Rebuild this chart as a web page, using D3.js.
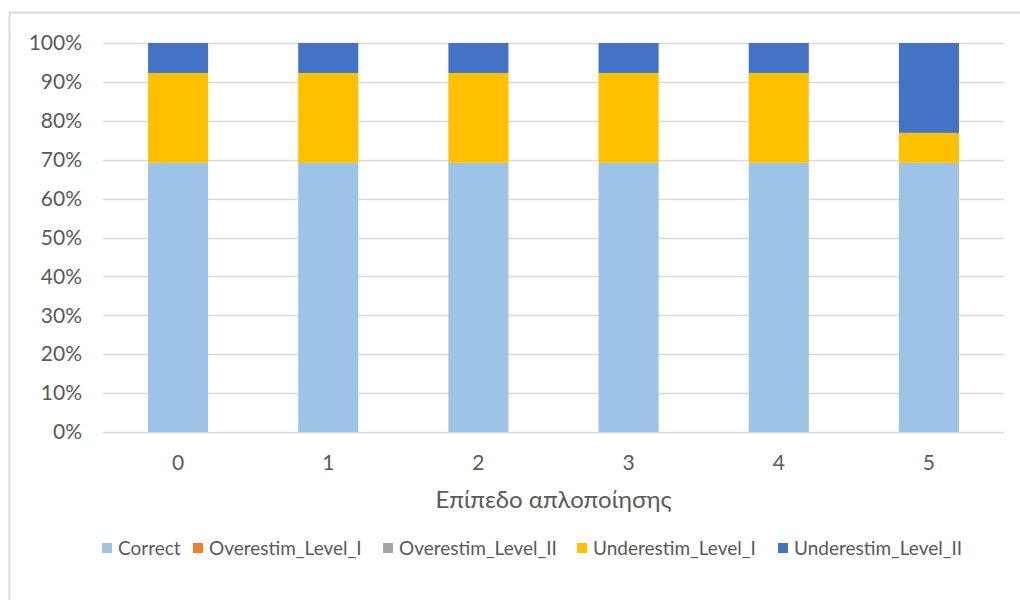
<!DOCTYPE html>
<html>
<head>
<meta charset="utf-8">
<script src="https://cdn.jsdelivr.net/npm/d3@7"></script>
<style>
  html, body { margin: 0; padding: 0; background: #ffffff; }
  svg { display: block; }
  text { font-family: Lato, "Open Sans", "Liberation Sans", sans-serif; fill: #595959; }
</style>
</head>
<body>
<svg id="chart" width="1020" height="600"></svg>
<script>
// Simplification levels on the x axis
const levels = ["0", "1", "2", "3", "4", "5"];

// Share of each outcome per level (percent)
const correct          = [69.2, 69.2, 69.2, 69.2, 69.2, 69.2];
const overestimLevelI  = [0, 0, 0, 0, 0, 0];
const overestimLevelII = [0, 0, 0, 0, 0, 0];
const underestimLevelI = [23.1, 23.1, 23.1, 23.1, 23.1, 7.7];
const underestimLevelII = [7.7, 7.7, 7.7, 7.7, 7.7, 23.1];

const seriesNames = ["Correct", "Overestim_Level_I", "Overestim_Level_II", "Underestim_Level_I", "Underestim_Level_II"];
const seriesValues = [correct, overestimLevelI, overestimLevelII, underestimLevelI, underestimLevelII];
const seriesColors = ["#9dc3e6", "#ed7d31", "#a5a5a5", "#ffc000", "#4472c4"];

const yTicks = [0, 10, 20, 30, 40, 50, 60, 70, 80, 90, 100];

const svg = d3.select("#chart");

// Chart frame
svg.append("rect")
  .attr("x", 9.5).attr("y", 12.5)
  .attr("width", 1030).attr("height", 620)
  .attr("fill", "#ffffff")
  .attr("stroke", "#d9d9d9")
  .attr("stroke-width", 2);

const plot = { left: 103, right: 1004, top: 43, bottom: 432 };

const x = d3.scaleBand()
  .domain(levels)
  .range([plot.left, plot.right])
  .paddingInner(0.6)
  .paddingOuter(0.3);

const y = d3.scaleLinear()
  .domain([0, 100])
  .range([plot.bottom, plot.top]);

// Gridlines
svg.append("g")
  .selectAll("line")
  .data(yTicks)
  .join("line")
  .attr("x1", plot.left).attr("x2", plot.right)
  .attr("y1", d => Math.round(y(d)) + 0.5)
  .attr("y2", d => Math.round(y(d)) + 0.5)
  .attr("stroke", "#d9d9d9")
  .attr("stroke-width", 1.3);

// Stack the series
const rows = levels.map((lvl, i) => {
  const r = { level: lvl };
  seriesNames.forEach((s, k) => { r[s] = seriesValues[k][i]; });
  return r;
});
const stacked = d3.stack().keys(seriesNames)(rows);

svg.append("g")
  .selectAll("g")
  .data(stacked)
  .join("g")
  .attr("fill", (d, i) => seriesColors[i])
  .selectAll("rect")
  .data(d => d)
  .join("rect")
  .attr("x", d => x(d.data.level))
  .attr("width", x.bandwidth())
  .attr("y", d => y(d[1]))
  .attr("height", d => y(d[0]) - y(d[1]));

// Y axis labels
const yAxis = d3.axisLeft(y)
  .tickValues(yTicks)
  .tickFormat(d => d + "%")
  .tickSize(0)
  .tickPadding(0);
const yg = svg.append("g")
  .attr("transform", `translate(${plot.left - 21},0)`)
  .call(yAxis);
yg.select(".domain").remove();
yg.selectAll("text")
  .attr("font-size", 21)
  .style("font-family", "Lato, 'Open Sans', sans-serif")
  .attr("fill", "#595959");

// X axis labels
const xAxis = d3.axisBottom(x).tickSize(0).tickPadding(0);
const xg = svg.append("g")
  .attr("transform", `translate(0,${plot.bottom + 23})`)
  .call(xAxis);
xg.select(".domain").remove();
xg.selectAll("text")
  .attr("font-size", 21)
  .style("font-family", "Lato, 'Open Sans', sans-serif")
  .attr("fill", "#595959");

// Axis title
svg.append("text")
  .attr("x", (plot.left + plot.right) / 2)
  .attr("y", 508)
  .attr("text-anchor", "middle")
  .attr("font-size", 24)
  .text("Επίπεδο απλοποίησης");

// Legend
const legendX = [102, 193, 383, 577, 778];
const legend = svg.append("g")
  .selectAll("g")
  .data(seriesNames)
  .join("g")
  .attr("transform", (d, i) => `translate(${legendX[i]},543)`);
legend.append("rect")
  .attr("width", 10).attr("height", 10)
  .attr("fill", (d, i) => seriesColors[i]);
legend.append("text")
  .attr("x", 16)
  .attr("y", 5)
  .attr("dy", "0.35em")
  .attr("font-size", 19)
  .text(d => d);
</script>
</body>
</html>
